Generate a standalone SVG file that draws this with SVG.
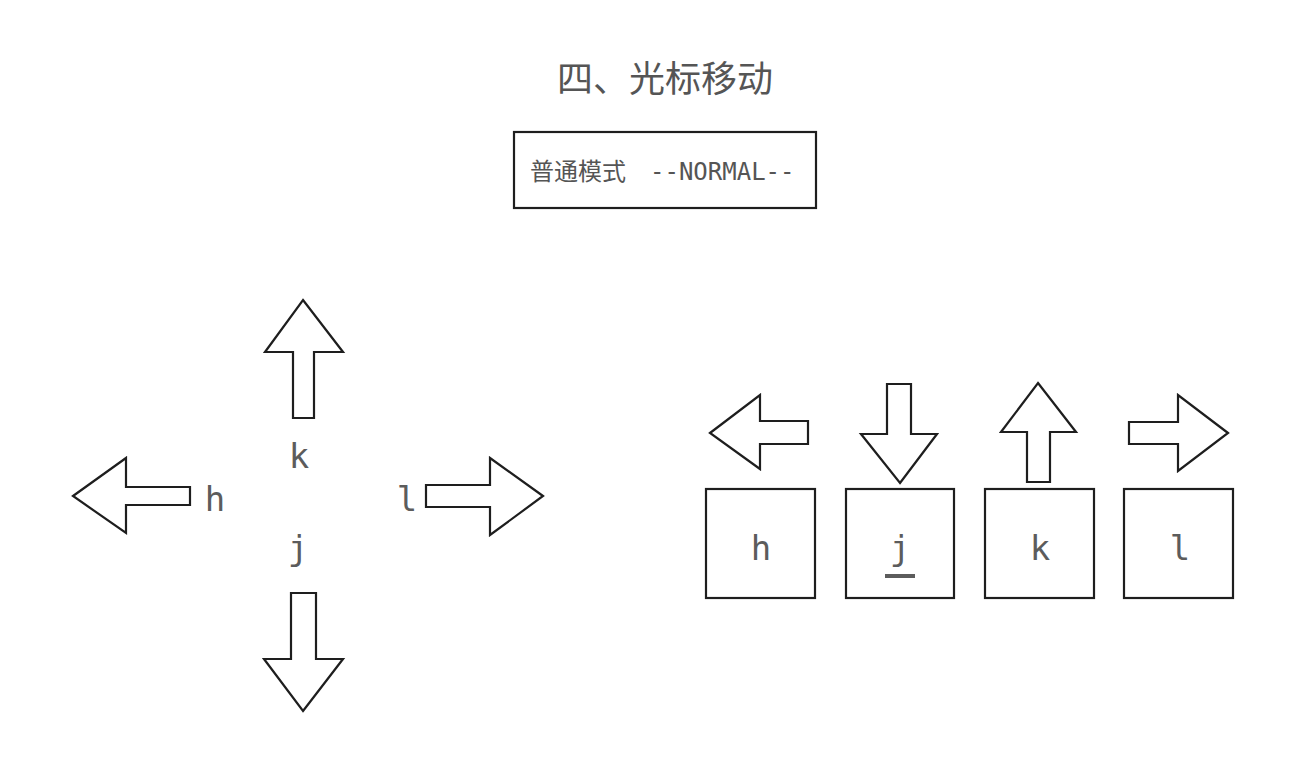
<svg xmlns="http://www.w3.org/2000/svg" width="1315" height="757" viewBox="0 0 1315 757">
<style>
.bg{fill:#ffffff}
.arrow{fill:#ffffff;stroke:#1e1e1e;stroke-width:2.2;stroke-linejoin:miter}
.box{fill:#ffffff;stroke:#1e1e1e;stroke-width:2.2}
.key{font-family:"DejaVu Sans Mono","Liberation Mono",monospace;font-size:34px;fill:#5c5c5c;text-anchor:middle}
.title{font-family:"Noto Sans CJK SC","Noto Sans",sans-serif;font-size:36px;fill:#555555;text-anchor:middle}
.mode{font-family:"DejaVu Sans Mono","Noto Sans CJK SC",monospace;font-size:24px;fill:#555555}
</style>
<rect class="bg" x="0" y="0" width="1315" height="757"/>
<g id="title"><text class="title" x="665" y="92">四、光标移动</text></g>
<g id="mode-box">
<rect class="box" x="514" y="132" width="302" height="76"/>
<text class="mode" x="530" y="180">普通模式</text>
<text class="mode" x="650" y="180">--NORMAL--</text>
</g>
<g id="connectors">
<!-- left cluster -->
<polygon id="arrow-up-left" class="arrow" points="303,300 343,352 314,352 314,418 293,418 293,352 265,352"/>
<polygon id="arrow-left-left" class="arrow" points="73,496 126,458 126,487 190,487 190,505 126,505 126,533"/>
<polygon id="arrow-right-left" class="arrow" points="543,496 490,458 490,485 426,485 426,507 490,507 490,535"/>
<polygon id="arrow-down-left" class="arrow" points="303,711 343,659 316,659 316,593 291,593 291,659 264,659"/>
<!-- right cluster -->
<polygon id="arrow-left-right" class="arrow" points="710,433 760,395 760,421 808,421 808,444 760,444 760,469"/>
<polygon id="arrow-down-right" class="arrow" points="900,483 937,434 911,434 911,384 887,384 887,434 861,434"/>
<polygon id="arrow-up-right" class="arrow" points="1038,383 1076,432 1050,432 1050,482 1027,482 1027,432 1001,432"/>
<polygon id="arrow-right-right" class="arrow" points="1228,433 1178,395 1178,422 1129,422 1129,444 1178,444 1178,471"/>
</g>
<g id="label-k"><text class="key" x="299" y="468">k</text></g>
<g id="label-h"><text class="key" x="215" y="511">h</text></g>
<g id="label-l"><text class="key" x="407" y="511">l</text></g>
<g id="label-j"><text class="key" x="298" y="560">j</text></g>
<g id="key-h"><rect class="box" x="706" y="489" width="109" height="109"/><text class="key" x="761" y="560">h</text></g>
<g id="key-j"><rect class="box" x="846" y="489" width="108" height="109"/><text class="key" x="900" y="560">j</text><rect x="885" y="574" width="30" height="4" fill="#5c5c5c"/></g>
<g id="key-k"><rect class="box" x="985" y="489" width="109" height="109"/><text class="key" x="1040" y="560">k</text></g>
<g id="key-l"><rect class="box" x="1124" y="489" width="109" height="109"/><text class="key" x="1180" y="560">l</text></g>
</svg>
